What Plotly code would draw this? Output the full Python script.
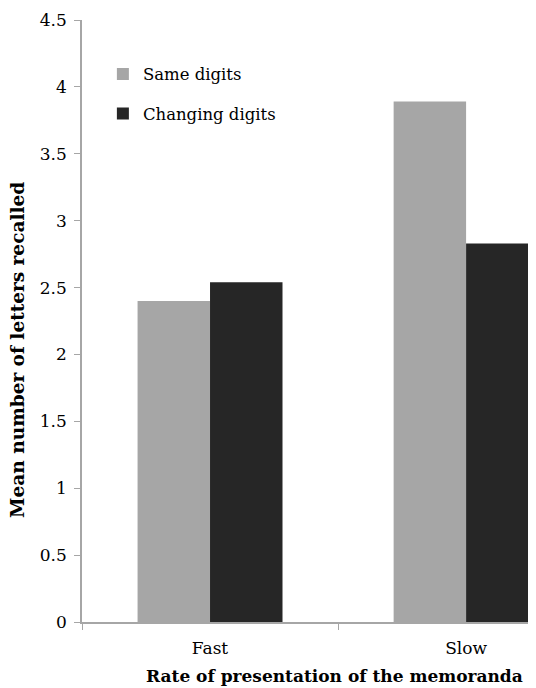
import plotly.graph_objects as go

categories = ["Fast", "Slow"]
same_digits = [2.40, 3.89]
changing_digits = [2.54, 2.83]
series_names = ["Same digits", "Changing digits"]
y_ticks = [0, 0.5, 1, 1.5, 2, 2.5, 3, 3.5, 4, 4.5]
y_tick_labels = ["0", "0.5", "1", "1.5", "2", "2.5", "3", "3.5", "4", "4.5"]

FONT = "DejaVu Serif"

fig = go.Figure()
fig.add_trace(go.Bar(x=categories, y=same_digits, name=series_names[0],
                     marker=dict(color="#a6a6a6", line=dict(width=0)),
                     legendgroup="a"))
fig.add_trace(go.Bar(x=categories, y=changing_digits, name=series_names[1],
                     marker=dict(color="#262626", line=dict(width=0)),
                     legendgroup="b"))

fig.update_layout(
    width=528, height=680,
    margin=dict(l=74, r=0, t=12, b=66),
    paper_bgcolor="white", plot_bgcolor="white",
    barmode="group", bargap=0.434, bargroupgap=0,
    font=dict(family=FONT, size=17, color="#000000"),
    showlegend=True,
    legend=dict(x=0.046, y=0.939, xanchor="left", yanchor="top",
                bgcolor="rgba(0,0,0,0)", font=dict(size=16.5),
                tracegroupgap=15, itemwidth=30),
    xaxis=dict(type="category", range=[-0.5, 1.273],
               showline=True, linecolor="#a6a6a6", linewidth=1.5,
               ticks="outside", tickson="boundaries", ticklen=6,
               tickcolor="#a6a6a6", showgrid=False,
               ticklabelstandoff=10,
               tickfont=dict(size=17)),
    yaxis=dict(range=[0, 4.5], tickvals=y_ticks, ticktext=y_tick_labels,
               showline=True, linecolor="#a6a6a6", linewidth=1.5,
               ticks="outside", ticklen=6, tickcolor="#a6a6a6",
               ticklabelstandoff=4,
               showgrid=False, zeroline=False, tickfont=dict(size=17)),
)

fig.add_annotation(text="<b>Mean number of letters recalled</b>",
                   xref="paper", yref="paper", x=-0.141, y=0.452,
                   xanchor="center", yanchor="middle", textangle=-90,
                   showarrow=False, font=dict(size=18.5, family=FONT))
fig.add_annotation(text="<b>Rate of presentation of the memoranda</b>",
                   xref="paper", yref="paper", x=0.557, y=-0.0897,
                   xanchor="center", yanchor="middle",
                   showarrow=False, font=dict(size=17, family=FONT))

fig.write_html("out.html")
